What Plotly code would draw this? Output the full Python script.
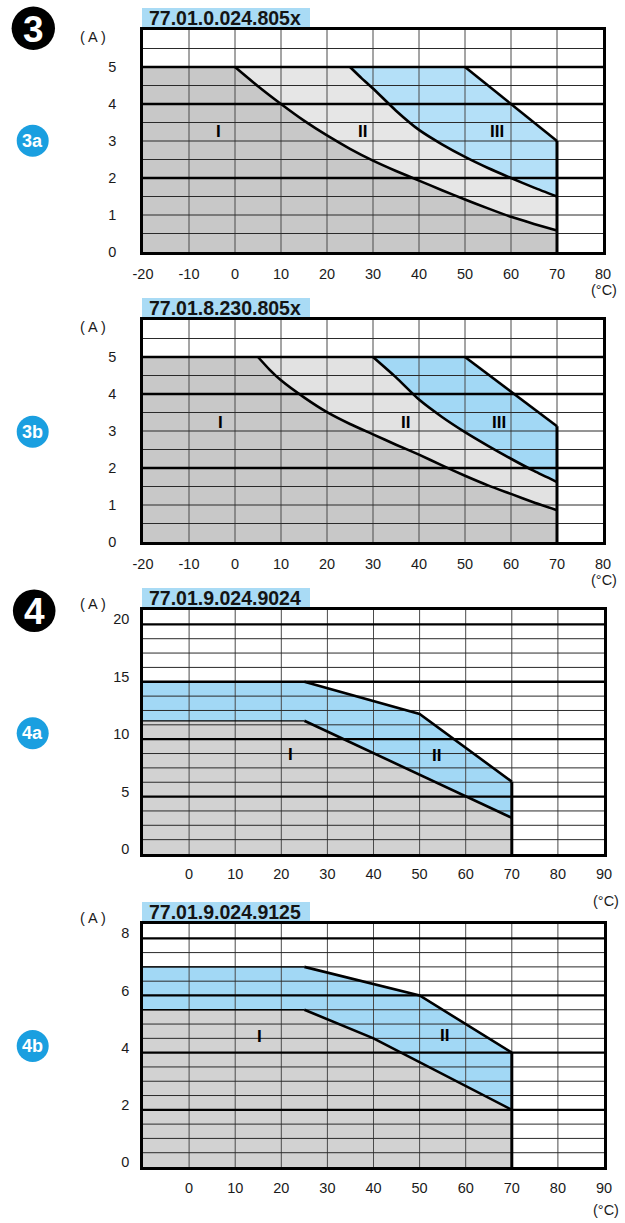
import numpy as np
import plotly.graph_objects as go

W, H = 625, 1223

# ---------------- data ----------------
# Chart 3a : 77.01.0.024.805x
c3a_title = "77.01.0.024.805x"
c3a_III_x = [-20, 50, 70]
c3a_III_y = [5, 5, 3.0]
c3a_II_x = [-20, 25, 27.5, 30, 35, 40, 45, 50, 55, 60, 65, 70]
c3a_II_y = [5, 5, 4.70, 4.42, 3.82, 3.30, 2.91, 2.57, 2.27, 2.00, 1.74, 1.50]
c3a_I_x = [-20, 0, 5, 10, 15, 20, 25, 30, 35, 40, 45, 50, 55, 60, 65, 70]
c3a_I_y = [5, 5, 4.48, 4.00, 3.55, 3.15, 2.79, 2.47, 2.19, 1.93, 1.67, 1.42, 1.18, 0.95, 0.76, 0.58]
c3a_lbl_text = ["I", "II", "III"]
c3a_lbl_x = [-3.6, 27.8, 57.0]
c3a_lbl_y = [3.27, 3.27, 3.27]

# Chart 3b : 77.01.8.230.805x
c3b_title = "77.01.8.230.805x"
c3b_III_x = [-20, 50, 70]
c3b_III_y = [5, 5, 3.13]
c3b_II_x = [-20, 30, 35, 40, 45, 50, 55, 60, 65, 70]
c3b_II_y = [5, 5, 4.45, 3.85, 3.38, 2.97, 2.60, 2.25, 1.92, 1.62]
c3b_I_x = [-20, 5, 7.5, 10, 15, 20, 25, 30, 35, 40, 45, 50, 55, 60, 65, 70]
c3b_I_y = [5, 5, 4.66, 4.37, 3.91, 3.51, 3.19, 2.91, 2.63, 2.36, 2.07, 1.79, 1.53, 1.30, 1.07, 0.86]
c3b_lbl_text = ["I", "II", "III"]
c3b_lbl_x = [-3.2, 37.0, 57.4]
c3b_lbl_y = [3.24, 3.24, 3.24]

# Chart 4a : 77.01.9.024.9024
c4a_title = "77.01.9.024.9024"
c4a_II_x = [-10, 25, 50, 70]
c4a_II_y = [15, 15, 12.2, 6.3]
c4a_I_x = [-10, 25, 70]
c4a_I_y = [11.6, 11.6, 3.15]
c4a_lbl_text = ["I", "II"]
c4a_lbl_x = [22.1, 53.6]
c4a_lbl_y = [8.67, 8.55]

# Chart 4b : 77.01.9.024.9125
c4b_title = "77.01.9.024.9125"
c4b_II_x = [-10, 25, 50, 70]
c4b_II_y = [7.0, 7.0, 6.0, 4.0]
c4b_I_x = [-10, 25, 40, 70]
c4b_I_y = [5.5, 5.5, 4.5, 2.0]
c4b_lbl_text = ["I", "II"]
c4b_lbl_x = [15.2, 55.3]
c4b_lbl_y = [4.55, 4.6]

# tick labels
t3_xticks = [-20, -10, 0, 10, 20, 30, 40, 50, 60, 70, 80]
t3_yticks = [0, 1, 2, 3, 4, 5]
t4_xticks = [0, 10, 20, 30, 40, 50, 60, 70, 80, 90]
t4a_yticks = [0, 5, 10, 15, 20]
t4b_yticks = [0, 2, 4, 6, 8]

# ---------------- styling ----------------
GRAY_I = "#c8c8c8"
GRAY_II = "#e6e6e6"
BLUE_3A = "#b4e0f8"
BLUE = "#a2d8f5"
GRAY_4 = "#d2d2d2"
TITLE_BG = "#a9dbf5"
BADGE_BLUE = "#1a9fe0"
FONT = "Liberation Sans, Arial, sans-serif"

charts = [
    dict(title=c3a_title, plot=(143, 30, 603, 252), xr=[-20, 80], yr=[0, 6],
         xticks=t3_xticks, yticks=t3_yticks, ystep=0.5, ythick=[2, 4, 5],
         xgrid=list(range(-10, 80, 10)),
         regions=[(c3a_III_x, c3a_III_y, BLUE_3A), (c3a_II_x, c3a_II_y, GRAY_II),
                  (c3a_I_x, c3a_I_y, GRAY_I)],
         spline=True,
         labels=(c3a_lbl_text, c3a_lbl_x, c3a_lbl_y),
         ystand=21, yshift=0, xstand=7, badge=("3a", 32.7, 140.7),
         unitA=(93, 37), unitC=(604, 290)),
    dict(title=c3b_title, plot=(143, 320, 603, 542), xr=[-20, 80], yr=[0, 6],
         xticks=t3_xticks, yticks=t3_yticks, ystep=0.5, ythick=[2, 4, 5],
         xgrid=list(range(-10, 80, 10)),
         regions=[(c3b_III_x, c3b_III_y, BLUE), (c3b_II_x, c3b_II_y, "#e2e2e2"),
                  (c3b_I_x, c3b_I_y, GRAY_I)],
         spline=True,
         labels=(c3b_lbl_text, c3b_lbl_x, c3b_lbl_y),
         ystand=21, yshift=0, xstand=7, badge=("3b", 32.7, 431.7),
         unitA=(93, 327), unitC=(604, 580)),
    dict(title=c4a_title, plot=(143, 610, 604, 854), xr=[-10, 90], yr=[0, 21.25],
         xticks=t4_xticks, yticks=t4a_yticks, ystep=1.25, ythick=[5, 10, 15, 20],
         xgrid=list(range(0, 90, 10)),
         regions=[(c4a_II_x, c4a_II_y, BLUE), (c4a_I_x, c4a_I_y, GRAY_4)],
         spline=False,
         labels=(c4a_lbl_text, c4a_lbl_x, c4a_lbl_y),
         ystand=8, yshift=-5, xstand=5, badge=("4a", 32.7, 733.3),
         unitA=(93, 604), unitC=(606, 901)),
    dict(title=c4b_title, plot=(143, 924, 604, 1167), xr=[-10, 90], yr=[0, 8.5],
         xticks=t4_xticks, yticks=t4b_yticks, ystep=0.5, ythick=[2, 4, 6, 8],
         xgrid=list(range(0, 90, 10)),
         regions=[(c4b_II_x, c4b_II_y, BLUE), (c4b_I_x, c4b_I_y, GRAY_4)],
         spline=False,
         labels=(c4b_lbl_text, c4b_lbl_x, c4b_lbl_y),
         ystand=8, yshift=-5, xstand=6, badge=("4b", 32.7, 1046),
         unitA=(93, 918), unitC=(606, 1210)),
]

def px(v):
    return v / W

def py(v):
    return 1 - v / H

def note(x, y, text, size, color="#1a1a1a", xref="paper", yref="paper",
         xanchor="center", yanchor="middle"):
    return dict(x=x, y=y, xref=xref, yref=yref, text=text, showarrow=False,
                xanchor=xanchor, yanchor=yanchor,
                font=dict(size=size, color=color, family=FONT))

fig = go.Figure()
layout = dict(width=W, height=H, autosize=False,
              margin=dict(l=0, r=0, t=0, b=0, pad=0, autoexpand=False),
              paper_bgcolor="white", plot_bgcolor="white", showlegend=False,
              hovermode=False, font=dict(family=FONT, size=14.5, color="#1a1a1a"))
shapes, annotations = [], []

for i, c in enumerate(charts):
    n = "" if i == 0 else str(i + 1)
    xa, ya = "x" + n, "y" + n
    l, t, r, b = c["plot"]
    x0, x1 = c["xr"]
    y0, y1 = c["yr"]

    # filled regions (outermost first)
    for (rx, ry, col) in c["regions"]:
        fig.add_trace(go.Scatter(x=rx, y=ry, mode="lines", fill="tozeroy",
                                 fillcolor=col, line=dict(width=0, color=col),
                                 xaxis=xa, yaxis=ya, hoverinfo="skip"))

    # grid lines drawn above the fills
    ylines = np.arange(c["ystep"], y1 - 1e-9, c["ystep"])
    thin_x, thin_y, thick_x, thick_y = [], [], [], []
    for yv in ylines:
        if any(abs(yv - tk) < 1e-9 for tk in c["ythick"]):
            thick_x += [x0, x1, None]; thick_y += [yv, yv, None]
        else:
            thin_x += [x0, x1, None]; thin_y += [yv, yv, None]
    vx, vy = [], []
    for xv in c["xgrid"]:
        vx += [xv, xv, None]; vy += [y0, y1, None]
    fig.add_trace(go.Scatter(x=vx, y=vy, mode="lines", line=dict(width=1, color="#4a4a4a"),
                             xaxis=xa, yaxis=ya, hoverinfo="skip"))
    fig.add_trace(go.Scatter(x=thin_x, y=thin_y, mode="lines", line=dict(width=1, color="#2a2a2a"),
                             xaxis=xa, yaxis=ya, hoverinfo="skip"))
    fig.add_trace(go.Scatter(x=thick_x, y=thick_y, mode="lines", line=dict(width=2.3, color="black"),
                             xaxis=xa, yaxis=ya, hoverinfo="skip"))

    # region outlines
    for k, (rx, ry, col) in enumerate(c["regions"]):
        fig.add_trace(go.Scatter(x=rx[:2], y=ry[:2], mode="lines",
                                 line=dict(width=1.3, color="black"),
                                 xaxis=xa, yaxis=ya, hoverinfo="skip"))
        fig.add_trace(go.Scatter(x=rx[1:], y=ry[1:], mode="lines",
                                 line=dict(width=2.6, color="black",
                                           shape="spline" if (c["spline"] and k > 0) else "linear",
                                           smoothing=0.6),
                                 xaxis=xa, yaxis=ya, hoverinfo="skip"))
        if k == 0:
            fig.add_trace(go.Scatter(x=[rx[-1], rx[-1]], y=[ry[-1], y0], mode="lines",
                                     line=dict(width=3, color="black"),
                                     xaxis=xa, yaxis=ya, hoverinfo="skip"))

    # axes
    dom_x = [px(l), px(r)]
    dom_y = [py(b), py(t)]
    layout["xaxis" + n] = dict(domain=dom_x, range=[x0, x1], anchor=ya, showgrid=False,
                               zeroline=False, showline=True, mirror=True, linewidth=2.5,
                               linecolor="black", ticks="", tickmode="array",
                               tickvals=c["xticks"], ticktext=[str(v) for v in c["xticks"]],
                               ticklabelstandoff=c["xstand"], layer="above traces",
                               fixedrange=True, automargin=False)
    layout["yaxis" + n] = dict(domain=dom_y, range=[y0, y1], anchor=xa, showgrid=False,
                               zeroline=False, showline=True, mirror=True, linewidth=2.5,
                               linecolor="black", ticks="", tickmode="array",
                               tickvals=c["yticks"], ticktext=[str(v) for v in c["yticks"]],
                               ticklabelstandoff=c["ystand"], ticklabelshift=c["yshift"],
                               layer="above traces", fixedrange=True, automargin=False)

    # region labels
    for txt, lx, ly in zip(*c["labels"]):
        annotations.append(note(lx, ly, "<b>%s</b>" % txt, 17, "black", xref=xa, yref=ya))

    # title box
    shapes.append(dict(type="rect", xref="paper", yref="paper",
                       x0=px(142), x1=px(310), y0=py(t - 1), y1=py(t - 22),
                       fillcolor=TITLE_BG, line=dict(width=0), layer="below"))
    annotations.append(note(px(147), py(t - 12), "<b>%s</b>" % c["title"], 19.5,
                            "#141414", xanchor="left"))
    # badge
    bt, bx, by = c["badge"]
    rr = 16
    shapes.append(dict(type="circle", xref="paper", yref="paper",
                       x0=px(bx - rr), x1=px(bx + rr), y0=py(by + rr), y1=py(by - rr),
                       fillcolor=BADGE_BLUE, line=dict(width=0)))
    annotations.append(note(px(bx), py(by), "<b>%s</b>" % bt, 18, "white"))
    # units
    ux, uy = c["unitA"]
    annotations.append(note(px(ux), py(uy), "( A )", 14.5))
    cx, cy = c["unitC"]
    annotations.append(note(px(cx), py(cy), "(°C)", 14.5))

# section badges (black circles)
for txt, bx, by, rr in [("3", 33.3, 28.3, 21.7), ("4", 34.2, 610.8, 21.3)]:
    shapes.append(dict(type="circle", xref="paper", yref="paper",
                       x0=px(bx - rr), x1=px(bx + rr), y0=py(by + rr), y1=py(by - rr),
                       fillcolor="black", line=dict(width=0)))
    annotations.append(note(px(bx), py(by + 1), "<b>%s</b>" % txt, 37, "white"))

layout["shapes"] = shapes
layout["annotations"] = annotations
fig.update_layout(**layout)
fig.write_html("out.html", config={"displayModeBar": False},
               post_script="document.body.style.margin='0px';"
                           "document.body.style.padding='0px';"
                           "document.body.style.overflow='hidden';")
